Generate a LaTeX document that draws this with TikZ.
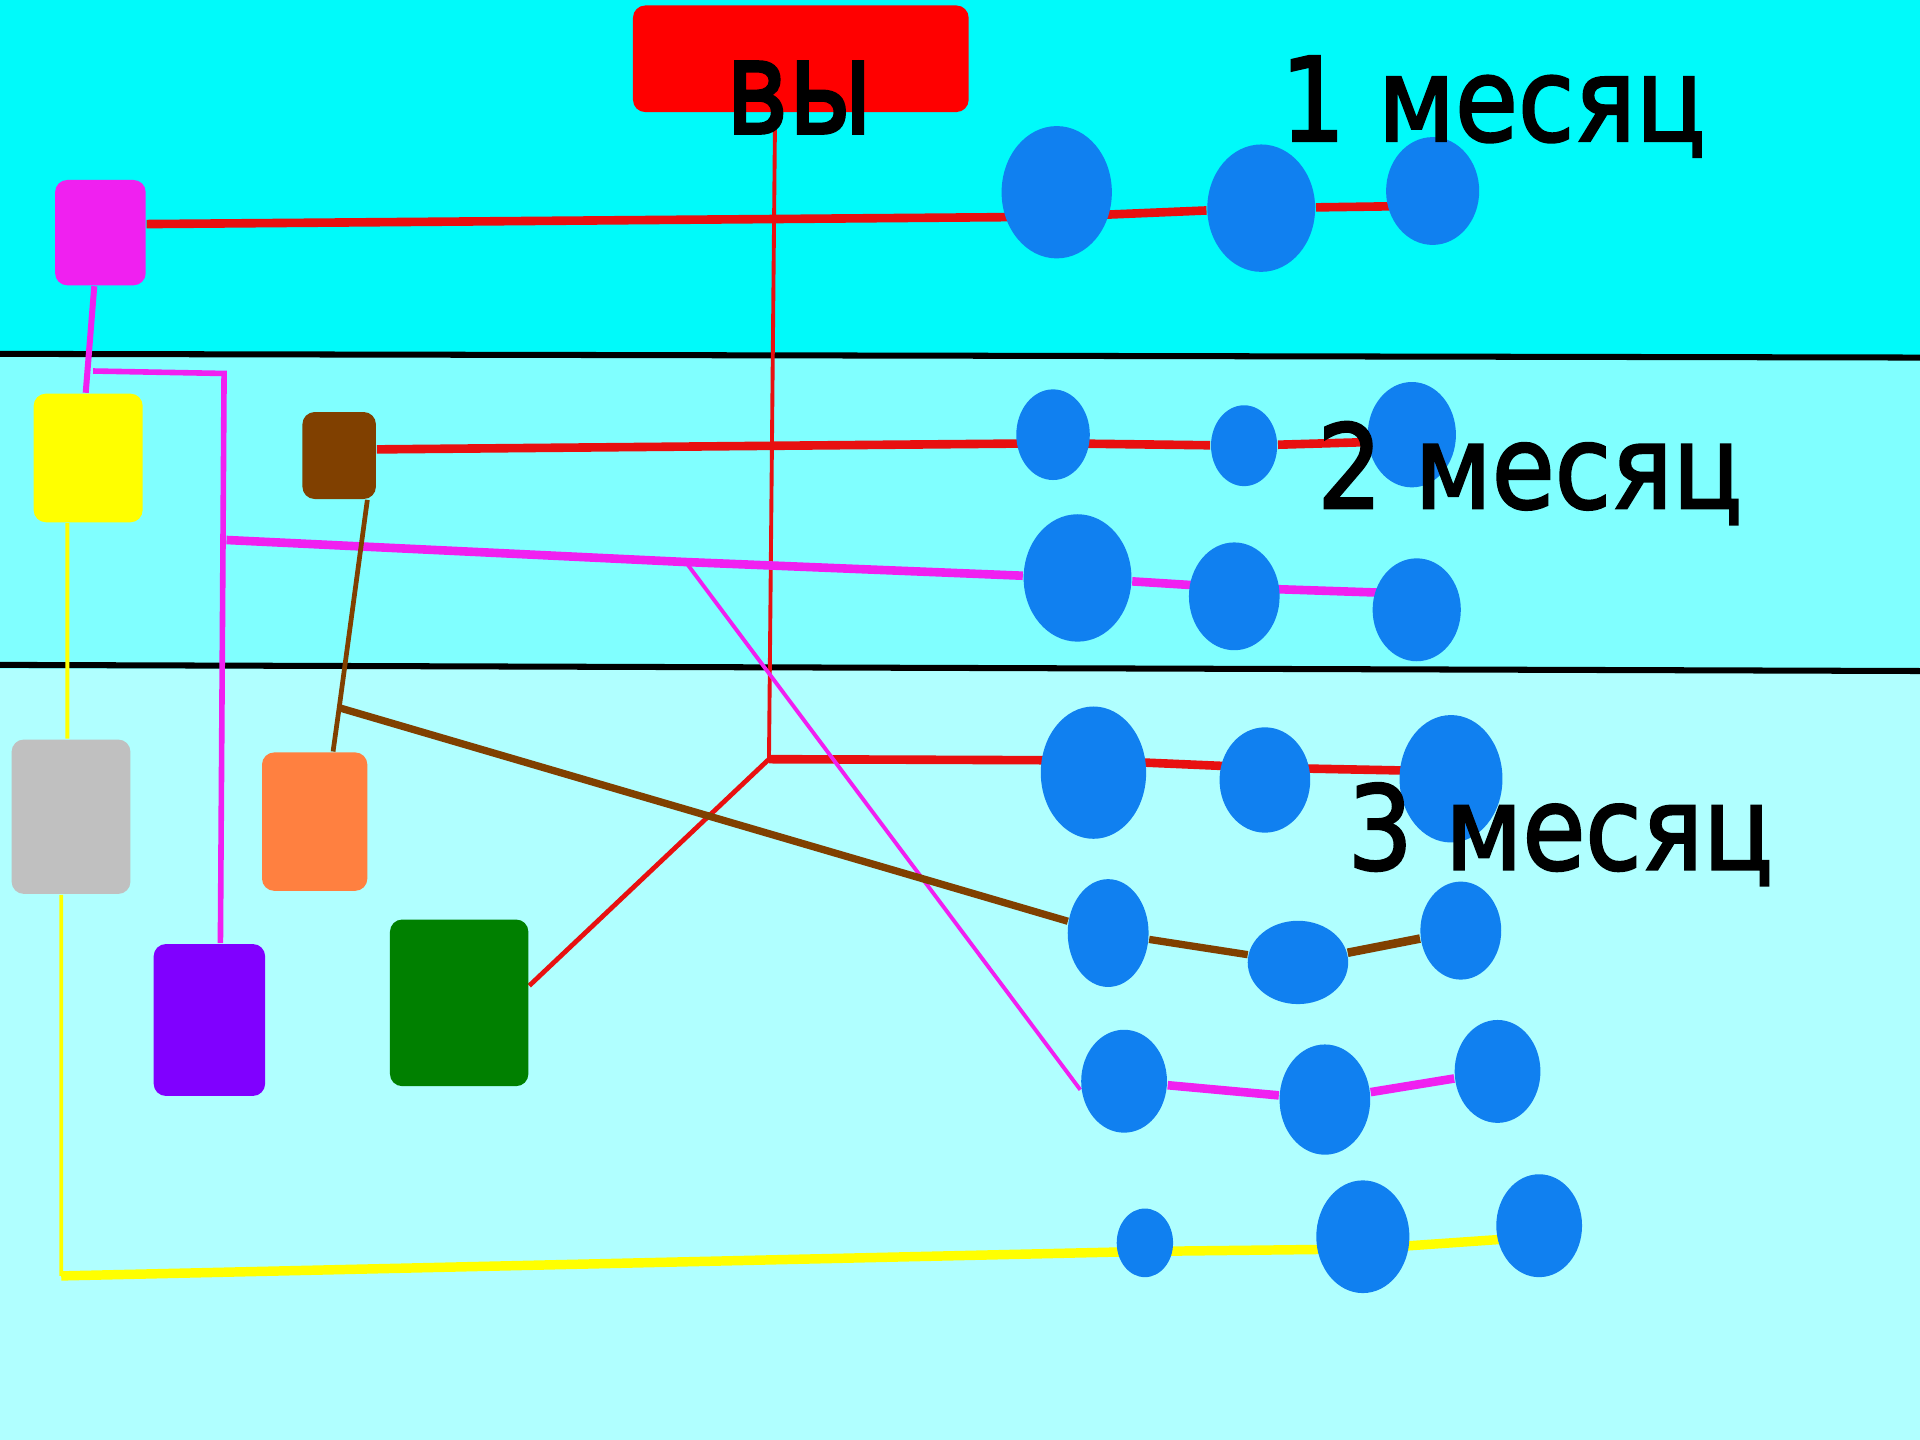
\documentclass[tikz,border=0pt]{standalone}
\usepackage{fontspec}
\setmainfont{DejaVu Sans}
\newfontfamily\monthfont{DejaVu Sans}[BoldFont=DejaVu Sans, BoldFeatures={FakeBold=2.2}]
\usetikzlibrary{shapes.geometric, backgrounds}

\definecolor{topband}{HTML}{00FAFA}
\definecolor{midband}{HTML}{80FFFF}
\definecolor{lowband}{HTML}{B0FFFF}
\definecolor{blobblue}{HTML}{1080F0}
\definecolor{pinkish}{HTML}{F020F0}
\definecolor{youred}{HTML}{FF0000}
\definecolor{lineyellow}{HTML}{FFFF00}
\definecolor{brownish}{HTML}{804000}
\definecolor{greyish}{HTML}{C0C0C0}
\definecolor{orangish}{HTML}{FF8040}
\definecolor{purplish}{HTML}{8000FF}
\definecolor{greenish}{HTML}{008000}
\definecolor{redline}{HTML}{E81010}

\tikzset{
  box/.style={rectangle, rounded corners=0.1cm, inner sep=0pt},
  blob/.style 2 args={ellipse, fill=blobblue, inner sep=0pt, minimum width=#1, minimum height=#2},
  monthtext/.style={anchor=base west, inner sep=0pt, font=\monthfont\fontsize{27}{30}\selectfont\bfseries},
  fat/.style={line width=2pt},
  slim/.style={line width=0.9pt},
}

\begin{document}
\begin{tikzpicture}[x=0.01cm, y=-0.01cm]
    \useasboundingbox (0,0) rectangle (1568,1176);

    \node[box, fill=youred, minimum width=2.74cm, minimum height=.87cm] (you) at (654,48) {};
    \node[box, fill=pinkish, minimum width=.74cm, minimum height=.86cm] (pink) at (82,190) {};
    \node[box, fill=lineyellow, minimum width=.89cm, minimum height=1.05cm] (yellow) at (72,374) {};
    \node[box, fill=brownish, minimum width=.60cm, minimum height=.71cm] (brown) at (277,372) {};
    \node[box, fill=greyish, minimum width=.97cm, minimum height=1.26cm] (grey) at (58,667) {};
    \node[box, fill=orangish, minimum width=.86cm, minimum height=1.13cm] (orange) at (257,671) {};
    \node[box, fill=purplish, minimum width=.91cm, minimum height=1.24cm] (purple) at (171,833) {};
    \node[box, fill=greenish, minimum width=1.13cm, minimum height=1.36cm] (green) at (375,819) {};

    \node[blob={.90cm}{1.08cm}] (a1) at (863,157) {};
    \node[blob={.88cm}{1.04cm}] (a2) at (1030,170) {};
    \node[blob={.76cm}{.88cm}] (a3) at (1170,156) {};

    \node[blob={.60cm}{.74cm}] (b1) at (860,355) {};
    \node[blob={.54cm}{.66cm}] (b2) at (1016,364) {};
    \node[blob={.72cm}{.86cm}] (b3) at (1153,355) {};

    \node[blob={.88cm}{1.04cm}] (c1) at (880,472) {};
    \node[blob={.74cm}{.88cm}] (c2) at (1008,487) {};
    \node[blob={.72cm}{.84cm}] (c3) at (1157,498) {};

    \node[blob={.86cm}{1.08cm}] (d1) at (893,631) {};
    \node[blob={.74cm}{.86cm}] (d2) at (1033,637) {};
    \node[blob={.84cm}{1.04cm}] (d3) at (1185,636) {};

    \node[blob={.66cm}{.88cm}] (e1) at (905,762) {};
    \node[blob={.82cm}{.68cm}] (e2) at (1060,786) {};
    \node[blob={.66cm}{.80cm}] (e3) at (1193,760) {};

    \node[blob={.70cm}{.84cm}] (f1) at (918,883) {};
    \node[blob={.74cm}{.90cm}] (f2) at (1082,898) {};
    \node[blob={.70cm}{.84cm}] (f3) at (1223,875) {};

    \node[blob={.46cm}{.56cm}] (g1) at (935,1015) {};
    \node[blob={.76cm}{.92cm}] (g2) at (1113,1010) {};
    \node[blob={.70cm}{.84cm}] (g3) at (1257,1001) {};

    \coordinate (hub) at (628,620);
    \coordinate (pj1) at (76,303);
    \coordinate (pj2) at (183,305);
    \coordinate (pj3) at (185,441);
    \coordinate (pj4) at (560,459);
    \coordinate (bj) at (277,578);
    \coordinate (ycorner) at (50,1042);

    \begin{pgfonlayer}{background}
        \fill[topband] (0,0) rectangle (1568,291);
        \fill[midband] (0,291) rectangle (1568,546);
        \fill[lowband] (0,546) rectangle (1568,1176);
        \draw[line width=1.4pt] (0,289) -- (1568,292);
        \draw[line width=1.4pt] (0,543) -- (1568,548);

        \draw[redline, fat] ([yshift=.07cm]pink.east) -- ([yshift=-.2cm]a1.center) -- (a2) -- ([yshift=-.12cm]a3.center);
        \draw[redline, fat] ([yshift=.05cm]brown.east) -- ([yshift=-.07cm]b1.center) -- (b2) -- ([yshift=-.05cm]b3.center);
        \draw[redline, slim] ([xshift=-.21cm]you.south) -- (hub);
        \draw[redline, fat] (hub) -- ([yshift=.1cm]d1.center) -- ([yshift=.1cm]d2.center) -- ([yshift=.06cm]d3.center);
        \draw[redline, line width=1.1pt] (hub) -- ([yshift=.14cm]green.east);

        \draw[pinkish, line width=1.4pt] ([xshift=-.05cm]pink.south) -- ([xshift=-.02cm]yellow.north);
        \draw[pinkish, line width=1.3pt] (pj1) -- (pj2) -- ([xshift=.09cm]purple.north);
        \draw[pinkish, fat] (pj3) -- (pj4) -- (c1) -- ([yshift=.07cm]c2.center) -- ([yshift=.13cm]c3.center);
        \draw[pinkish, slim] (pj4) -- ([yshift=-.07cm]f1.west);
        \draw[pinkish, fat] (f1) -- (f2) -- (f3);

        \draw[brownish, line width=1.1pt] ([xshift=.23cm]brown.south) -- (bj) -- ([xshift=.15cm]orange.north);
        \draw[brownish, line width=1.7pt] (bj) -- (e1) -- (e2);
        \draw[brownish, fat] (e2) -- (e3);

        \draw[lineyellow, slim] ([xshift=-.17cm]yellow.south) -- ([xshift=-.03cm]grey.north);
        \draw[lineyellow, slim] ([xshift=-.08cm]grey.south) -- (ycorner);
        \draw[lineyellow, line width=2.2pt] (ycorner) -- ([yshift=-.07cm]g1.center) -- ([yshift=-.1cm]g2.center) -- ([yshift=-.09cm]g3.center);
    \end{pgfonlayer}

    \node[monthtext, font=\monthfont\fontsize{30.5}{33}\selectfont\bfseries] (youtext) at (592,109) {\scalebox{0.81}[1]{вы}};
    \node[monthtext] (month1) at (1045,115) {\scalebox{0.88}[1]{1 месяц}};
    \node[monthtext] (month2) at (1075,415) {\scalebox{0.88}[1]{2 месяц}};
    \node[monthtext] (month3) at (1100,710) {\scalebox{0.88}[1]{3 месяц}};
\end{tikzpicture}
\end{document}
